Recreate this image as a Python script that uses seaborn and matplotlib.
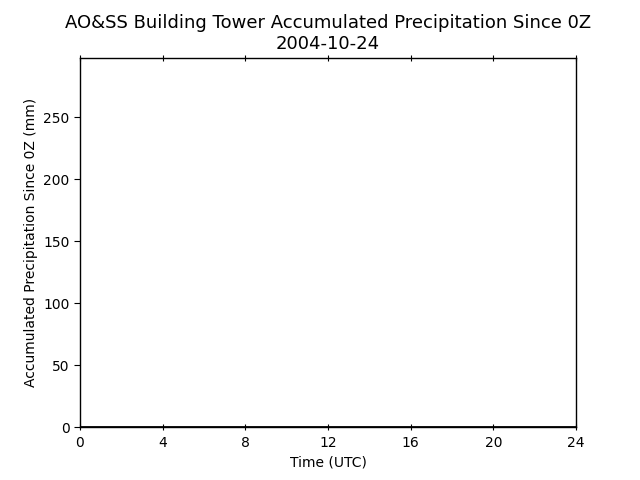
import numpy as np
import pandas as pd
import matplotlib
matplotlib.use("Agg")
import matplotlib.pyplot as plt
import seaborn as sns

# Hourly accumulated precipitation, all zero for the day
hours = [0, 1, 2, 3, 4, 5, 6, 7, 8, 9, 10, 11, 12,
         13, 14, 15, 16, 17, 18, 19, 20, 21, 22, 23, 24]
precip = [0, 0, 0, 0, 0, 0, 0, 0, 0, 0, 0, 0, 0,
          0, 0, 0, 0, 0, 0, 0, 0, 0, 0, 0, 0]
xticks = [0, 4, 8, 12, 16, 20, 24]

df = pd.DataFrame({"Time": hours, "Precip": precip})

sns.set_style("white")
plt.rcParams['font.family'] = ['DejaVu Sans']
plt.rcParams['text.color'] = "black"
plt.rcParams['axes.labelcolor'] = "black"

fig, ax = plt.subplots(figsize=(6.4, 4.8), dpi=100)
sns.lineplot(data=df, x="Time", y="Precip", color="black", linewidth=2, ax=ax)

ax.set_xlim(0, 24)
ax.set_ylim(0, 298)
ax.set_xticks(xticks)
ax.set_yticks([0, 50, 100, 150, 200, 250])
for s in ax.spines.values():
    s.set_color("black")
    s.set_linewidth(1)
ax.tick_params(axis="x", direction="inout", top=True, bottom=True, length=5, width=0.8, colors="black")
ax.tick_params(axis="y", direction="out", left=True, length=4, width=0.8, colors="black")
ax.tick_params(labelsize=10)
ax.set_xlabel("Time (UTC)", fontsize=10, color="black")
ax.set_ylabel("Accumulated Precipitation Since 0Z (mm)", fontsize=10, color="black")
ax.set_title("AO&SS Building Tower Accumulated Precipitation Since 0Z\n2004-10-24",
             fontsize=13, color="black")

fig.subplots_adjust(left=0.125, right=0.9, top=0.88, bottom=0.11)
fig.savefig("out.png", dpi=100)
